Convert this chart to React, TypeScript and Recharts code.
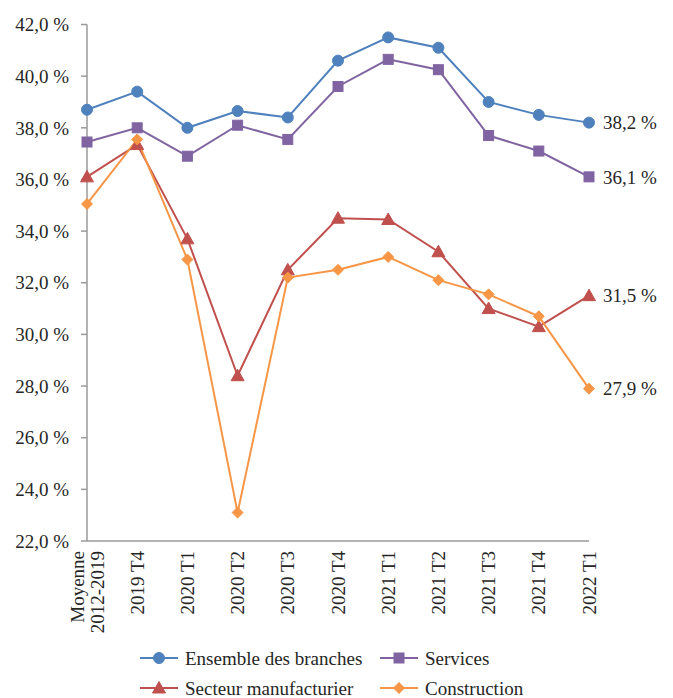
import React from 'react';
import { LineChart, Line, XAxis, YAxis, Legend } from 'recharts';

const categories = ['Moyenne\n2012-2019', '2019 T4', '2020 T1', '2020 T2', '2020 T3', '2020 T4', '2021 T1', '2021 T2', '2021 T3', '2021 T4', '2022 T1'];
const ensemble = [38.7, 39.4, 38.0, 38.65, 38.4, 40.6, 41.5, 41.1, 39.0, 38.5, 38.2];
const services = [37.45, 38.0, 36.9, 38.1, 37.55, 39.6, 40.65, 40.25, 37.7, 37.1, 36.1];
const manufacturier = [36.1, 37.35, 33.7, 28.4, 32.5, 34.5, 34.45, 33.2, 31.0, 30.3, 31.5];
const construction = [35.05, 37.55, 32.9, 23.1, 32.2, 32.5, 33.0, 32.1, 31.55, 30.7, 27.9];
const yTicks = [22, 24, 26, 28, 30, 32, 34, 36, 38, 40, 42];

const seriesNames = ['Ensemble des branches', 'Services', 'Secteur manufacturier', 'Construction'];
const colors = ['#4F81BD', '#8064A2', '#C0504D', '#F79646'];

const data = categories.map((c, i) => ({
  cat: c,
  ensemble: ensemble[i],
  services: services[i],
  manufacturier: manufacturier[i],
  construction: construction[i],
}));

const FONT = "'Liberation Serif', 'Times New Roman', serif";
const TEXT = '#262626';
const fmt = (v: number) => v.toFixed(1).replace('.', ',') + ' %';

function Marker({ kind, cx, cy, color }: { kind: number; cx: number; cy: number; color: string }) {
  if (cx == null || cy == null) return null;
  if (kind === 0) return <circle cx={cx} cy={cy} r={5.5} fill={color} stroke={color} />;
  if (kind === 1) return <rect x={cx - 5} y={cy - 5} width={10} height={10} fill={color} stroke={color} />;
  if (kind === 2)
    return <polygon points={`${cx},${cy - 6.5} ${cx - 6.5},${cy + 5} ${cx + 6.5},${cy + 5}`} fill={color} stroke={color} />;
  return <polygon points={`${cx},${cy - 5.5} ${cx + 5.5},${cy} ${cx},${cy + 5.5} ${cx - 5.5},${cy}`} fill={color} stroke={color} />;
}

const makeDot = (kind: number) => (props: any) => (
  <Marker key={`d-${kind}-${props.index}`} kind={kind} cx={props.cx} cy={props.cy} color={colors[kind]} />
);

const endLabel = (props: any) => {
  const { x, y, index, value } = props;
  if (index !== categories.length - 1) return null;
  return (
    <text key={`l-${index}`} x={x + 14} y={y} dy="0.35em" fontFamily={FONT} fontSize={19} fill={TEXT}>
      {fmt(value)}
    </text>
  );
};

const XTick = (props: any) => {
  const { x, y, payload } = props;
  const lines: string[] = String(payload.value).split('\n');
  const n = lines.length;
  return (
    <g transform={`translate(${x},${y + 8}) rotate(-90)`}>
      {lines.map((l, i) => {
        const off = (i - (n - 1) / 2) * 20;
        return (
          <text key={i} x={0} y={off + 6.5} textAnchor="end" fontFamily={FONT} fontSize={19} fill={TEXT}>
            {l}
          </text>
        );
      })}
    </g>
  );
};

const LegendContent = () => {
  const items = [
    { x: 140, y: 16, k: 0 },
    { x: 380, y: 16, k: 1 },
    { x: 140, y: 46, k: 2 },
    { x: 380, y: 46, k: 3 },
  ];
  return (
    <svg width={673} height={56} style={{ overflow: 'visible', display: 'block' }}>
      {items.map((it) => (
        <g key={it.k}>
          <line x1={it.x} x2={it.x + 38} y1={it.y} y2={it.y} stroke={colors[it.k]} strokeWidth={2} />
          <Marker kind={it.k} cx={it.x + 19} cy={it.y} color={colors[it.k]} />
          <text x={it.x + 45} y={it.y} dy="0.35em" fontFamily={FONT} fontSize={19} fill={TEXT}>
            {seriesNames[it.k]}
          </text>
        </g>
      ))}
    </svg>
  );
};

export default function App() {
  return (
    <div style={{ position: 'absolute', left: 0, top: 0, width: 673, height: 698, background: '#fff', overflow: 'hidden' }}>
      <LineChart width={673} height={698} data={data} margin={{ top: 24.5, right: 84, left: 0, bottom: 0 }}>
        <XAxis
          dataKey="cat"
          interval={0}
          height={101}
          tick={<XTick />}
          tickLine={false}
          tickSize={0}
          axisLine={{ stroke: '#9a9a9a', strokeWidth: 1.5 }}
        />
        <YAxis
          width={87}
          domain={[22, 42]}
          ticks={yTicks}
          interval={0}
          tickFormatter={fmt}
          tickSize={6}
          tickMargin={12}
          axisLine={{ stroke: '#9a9a9a', strokeWidth: 1.5 }}
          tickLine={{ stroke: '#9a9a9a', strokeWidth: 1.5 }}
          tick={{ fontFamily: FONT, fontSize: 19, fill: TEXT }}
        />
        <Legend
          verticalAlign="bottom"
          content={<LegendContent />}
          wrapperStyle={{ left: 0, bottom: 0, width: 673, height: 56 }}
        />
        <Line dataKey="ensemble" name={seriesNames[0]} stroke={colors[0]} strokeWidth={2} dot={makeDot(0)} activeDot={false} label={endLabel} isAnimationActive={false} />
        <Line dataKey="services" name={seriesNames[1]} stroke={colors[1]} strokeWidth={2} dot={makeDot(1)} activeDot={false} label={endLabel} isAnimationActive={false} />
        <Line dataKey="manufacturier" name={seriesNames[2]} stroke={colors[2]} strokeWidth={2} dot={makeDot(2)} activeDot={false} label={endLabel} isAnimationActive={false} />
        <Line dataKey="construction" name={seriesNames[3]} stroke={colors[3]} strokeWidth={2} dot={makeDot(3)} activeDot={false} label={endLabel} isAnimationActive={false} />
      </LineChart>
    </div>
  );
}
